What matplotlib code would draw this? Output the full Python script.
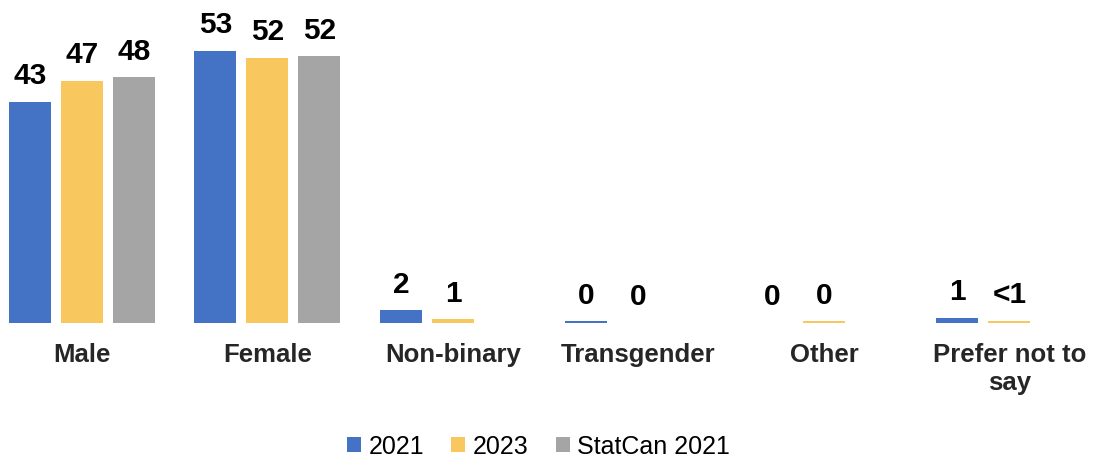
import numpy as np
import matplotlib
matplotlib.use("Agg")
import matplotlib.pyplot as plt
from matplotlib.patches import Patch

plt.rcParams['font.family'] = ['Liberation Sans', 'DejaVu Sans']

# donnees
categories = ['Male', 'Female', 'Non-binary', 'Transgender', 'Other', 'Prefer not to\nsay']
val_2021 = [43.0, 52.9, 2.5, 0.3, 0.0, 1.0]
val_2023 = [47.1, 51.6, 0.7, 0.0, 0.3, 0.4]
val_statcan = [47.8, 51.9, np.nan, np.nan, np.nan, np.nan]
lab_2021 = ['43', '53', '2', '0', '0', '1']
lab_2023 = ['47', '52', '1', '0', '0', '<1']
lab_statcan = ['48', '52', '', '', '', '']

series = ['2021', '2023', 'StatCan 2021']
couleurs = ['#4472C4', '#F8C75E', '#A5A5A5']

fig = plt.figure(figsize=(10.95, 4.6), dpi=100)
ax = fig.add_axes([0, 136/460, 1, 324/460])

x = np.arange(len(categories))
pas = 52/185.5
largeur = 42/185.5

donnees = [(val_2021, lab_2021), (val_2023, lab_2023), (val_statcan, lab_statcan)]
for i, (vals, labs) in enumerate(donnees):
    pos = x + (i - 1) * pas
    ax.bar(pos, vals, width=largeur, color=couleurs[i], label=series[i])
    for xp, v, t in zip(pos, vals, labs):
        if t == '':
            continue
        ax.annotate(t, (xp, v), xytext=(0, 9), textcoords='offset points',
                    ha='center', va='bottom', fontsize=21.5, fontweight='bold', color='black')

ax.set_xlim(-82/185.5, (1095-82)/185.5)
ax.set_ylim(0, 63.0)
ax.set_xticks(x)
ax.set_xticklabels(categories, fontsize=18.5, fontweight='bold', color='#262626', linespacing=1.2)
ax.tick_params(axis='x', length=0, pad=14)
ax.set_yticks([])
for s in ax.spines.values():
    s.set_visible(False)

poignees = [Patch(facecolor=c, edgecolor='none') for c in couleurs]
fig.legend(poignees, series, loc='center', bbox_to_anchor=(538.5/1095, 1 - 447/460),
           ncol=3, frameon=False, fontsize=18, handlelength=0.55, handleheight=0.55,
           handletextpad=0.3, columnspacing=1.1, borderpad=0)

fig.savefig('out.png', dpi=100)
